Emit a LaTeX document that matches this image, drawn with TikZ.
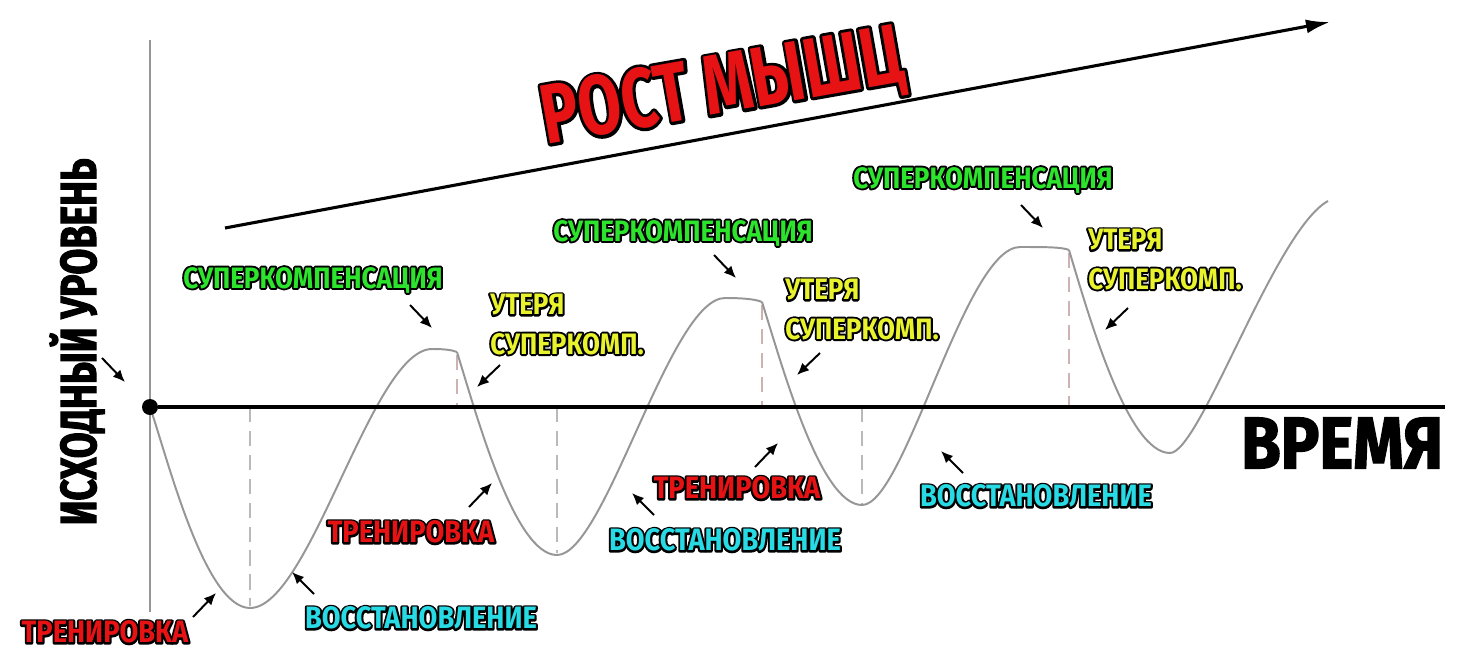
\documentclass[tikz,border=0pt]{standalone}
\usepackage{fontspec}
\usetikzlibrary{arrows.meta}
\newfontfamily\lblfont{Fira Sans}[FakeStretch=0.88]
\newfontfamily\narrowfont{Fira Sans}[FakeStretch=0.74]
\definecolor{lgreen}{RGB}{45,228,45}
\definecolor{lyellow}{RGB}{232,242,45}
\definecolor{lred}{RGB}{230,18,20}
\definecolor{lcyan}{RGB}{40,218,228}
\definecolor{wavegray}{RGB}{150,150,150}
\definecolor{guidegray}{RGB}{185,185,185}
\definecolor{peakgray}{RGB}{205,178,178}
% coloured text on a thick black copy of itself: edge weight, fill colour, text
\newcommand\edged[3]{\special{pdf:code 1 j}%
  \rlap{\addfontfeatures{FakeBold=#1}\color{black}#3}\textcolor{#2}{#3}}
\tikzset{
  lbl/.style={inner sep=0pt, font=\lblfont\bfseries\fontsize{21}{28}\selectfont},
  big/.style={inner sep=0pt, font=\lblfont\bfseries\fontsize{22}{26}\selectfont},
  ptr/.style={-{Latex[length=3mm,width=2.6mm]}, line width=1.4pt},
  wave/.style={draw=wavegray, line width=1.4pt},
  guide/.style={draw=guidegray, line width=1pt, dash pattern=on 11pt off 6pt}
}
\begin{document}
\begin{tikzpicture}[x=0.025cm, y=-0.025cm]
\useasboundingbox (0,0) rectangle (1460,652);
% axes
\draw[wavegray, line width=1.4pt] (150,40) -- (150,612);
\foreach \x/\y in {250/606, 557/553, 862/503}
  \draw[guide] (\x,407) -- (\x,\y);
\foreach \x/\y in {457/355, 762/305, 1069/253}
  \draw[guide, draw=peakgray] (\x,\y) -- (\x,407);
% the wave
\draw[wave] (150,407) .. controls (168,460) and (205,608) .. (250,608)
  .. controls (310,608) and (372,349) .. (432,349)
  .. controls (445,349) and (452,350) .. (457,352);
\draw[wave] (457,352) .. controls (478,420) and (515,555) .. (557,555)
  .. controls (605,555) and (670,298) .. (725,298)
  .. controls (742,298) and (755,299) .. (762,302);
\draw[wave] (762,302) .. controls (782,365) and (820,505) .. (862,505)
  .. controls (905,505) and (965,247) .. (1020,247)
  .. controls (1045,247) and (1062,247) .. (1069,250);
\draw[wave] (1069,250) .. controls (1090,320) and (1128,453) .. (1170,453)
  .. controls (1200,453) and (1275,230) .. (1328,201);
\node[circle, fill=black, inner sep=0pt, minimum size=0.4cm] (o) at (150,407) {};
\coordinate (tend) at (1445,407);
\draw[line width=2.2pt] (o) -- (tend);
\node[font=\lblfont\bfseries\fontsize{52}{56}\selectfont\addfontfeatures{FakeBold=2}, inner sep=0pt] (time) at (1342,443) {ВРЕМЯ};
\node[rotate=90, font=\narrowfont\bfseries\fontsize{36}{40}\selectfont\addfontfeatures{FakeBold=2}, inner sep=0pt] (base) at (77,342) {ИСХОДНЫЙ УРОВЕНЬ};
\coordinate (baset) at (125,382);
\draw[ptr] ([shift={(-23,-24)}]baset) -- (baset);
% growth
\coordinate (g0) at (225,228);
\coordinate (g1) at (1330,22);
\draw[line width=2.2pt, -{Latex[length=6mm,width=3.5mm]}] (g0) -- (g1);
\node[rotate=10, inner sep=0pt, font=\narrowfont\bfseries\fontsize{60}{64}\selectfont] (grow) at (723,90) {\edged{7}{lred}{РОСТ МЫШЦ}};
% supercompensation
\node[lbl] (sc1) at (313,280) {\edged{13}{lgreen}{СУПЕРКОМПЕНСАЦИЯ}};
\node[lbl] (sc2) at (683,233) {\edged{13}{lgreen}{СУПЕРКОМПЕНСАЦИЯ}};
\node[lbl] (sc3) at (983,180) {\edged{13}{lgreen}{СУПЕРКОМПЕНСАЦИЯ}};
\coordinate (sc1t) at (432,328);
\coordinate (sc2t) at (736,278);
\coordinate (sc3t) at (1043,228);
\foreach \t in {sc1t, sc2t, sc3t}
  \draw[ptr] ([shift={(-22,-23)}]\t) -- (\t);
% loss
\node[lbl, anchor=north west, align=left] (lo1) at (490,294) {\edged{13}{lyellow}{УТЕРЯ}\\\edged{13}{lyellow}{СУПЕРКОМП.}};
\node[lbl, anchor=north west, align=left] (lo2) at (785,279) {\edged{13}{lyellow}{УТЕРЯ}\\\edged{13}{lyellow}{СУПЕРКОМП.}};
\node[lbl, anchor=north west, align=left] (lo3) at (1088,229) {\edged{13}{lyellow}{УТЕРЯ}\\\edged{13}{lyellow}{СУПЕРКОМП.}};
\coordinate (lo1t) at (477,387);
\coordinate (lo2t) at (797,375);
\coordinate (lo3t) at (1105,330);
\foreach \t in {lo1t, lo2t, lo3t}
  \draw[ptr] ([shift={(23,-22)}]\t) -- (\t);
% training
\node[big] (tr1) at (105,632) {\edged{13}{lred}{ТРЕНИРОВКА}};
\node[big] (tr2) at (411,532) {\edged{13}{lred}{ТРЕНИРОВКА}};
\node[big] (tr3) at (737,488) {\edged{13}{lred}{ТРЕНИРОВКА}};
\coordinate (tr1t) at (216,593);
\coordinate (tr2t) at (492,483);
\coordinate (tr3t) at (778,443);
\foreach \t in {tr1t, tr2t, tr3t}
  \draw[ptr] ([shift={(-23,24)}]\t) -- (\t);
% recovery
\node[big] (vo1) at (421,618) {\edged{13}{lcyan}{ВОССТАНОВЛЕНИЕ}};
\node[big] (vo2) at (725,540) {\edged{13}{lcyan}{ВОССТАНОВЛЕНИЕ}};
\node[big] (vo3) at (1036,496) {\edged{13}{lcyan}{ВОССТАНОВЛЕНИЕ}};
\coordinate (vo1t) at (292,572);
\coordinate (vo2t) at (632,493);
\coordinate (vo3t) at (941,451);
\foreach \t in {vo1t, vo2t, vo3t}
  \draw[ptr] ([shift={(22,22)}]\t) -- (\t);
\end{tikzpicture}
\end{document}
